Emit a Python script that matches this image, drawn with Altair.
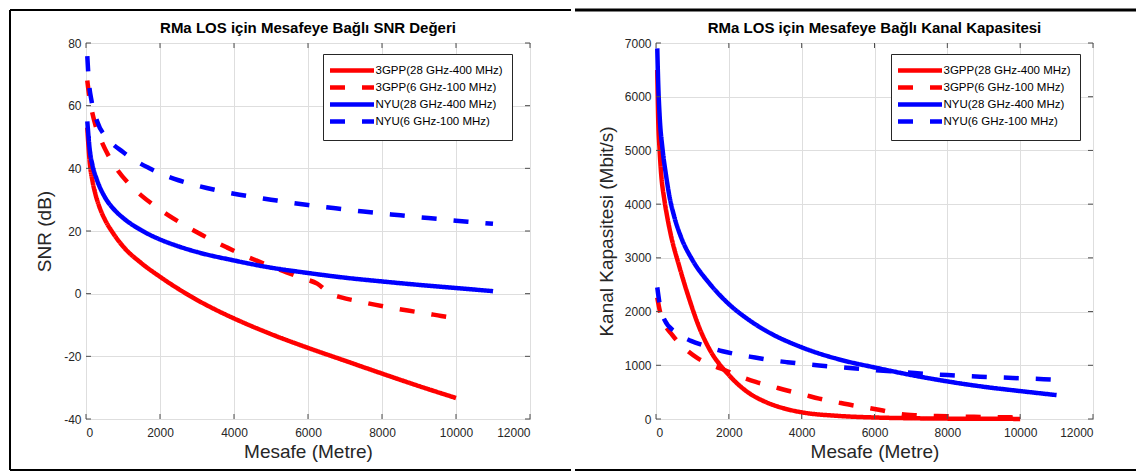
import altair as alt
import pandas as pd

SERIES = ["3GPP(28 GHz-400 MHz)", "3GPP(6 GHz-100 MHz)", "NYU(28 GHz-400 MHz)", "NYU(6 GHz-100 MHz)"]
COLORS = ["#ff0000", "#ff0000", "#0000ff", "#0000ff"]
DASHES = [[1, 0], [15, 17], [1, 0], [15, 17]]

X_TICKS = [0, 2000, 4000, 6000, 8000, 10000, 12000]
SNR_TICKS = [-40, -20, 0, 20, 40, 60, 80]
CAP_TICKS = [0, 1000, 2000, 3000, 4000, 5000, 6000, 7000]

TITLE_SNR = "RMa LOS için Mesafeye Bağlı SNR Değeri"
TITLE_CAP = "RMa LOS için Mesafeye Bağlı Kanal Kapasitesi"
X_TITLE = "Mesafe (Metre)"
Y_TITLE_SNR = "SNR (dB)"
Y_TITLE_CAP = "Kanal Kapasitesi (Mbit/s)"

# ---- SNR (dB) ----
snr_3gpp28_d = [35, 100, 175, 250, 375, 500, 750, 1000, 1500, 2000, 2500, 3000, 3500, 4000,
                5000, 6000, 7000, 8000, 9000, 10000]
snr_3gpp28_v = [53, 42, 36, 32, 27.3, 23.9, 19, 15.1, 9.7, 5.4, 1.5, -2, -5.1, -7.9,
                -12.9, -17.3, -21.4, -25.5, -29.5, -33.3]

snr_3gpp6_d = [35, 100, 175, 250, 420, 600, 830, 1200, 1500, 1900, 2230, 2630, 3000, 3400, 3800, 4200, 4600,
               5150, 5420, 5850, 6250, 6600, 6900, 7400, 7800, 8300, 8700, 9200, 9600, 10000]
snr_3gpp6_v = [68, 62, 57.5, 54, 48.6, 44.2, 39.8, 34.6, 31.3, 27.7, 25.0, 22.1, 19.6, 17.1, 14.8, 12.6, 10.6,
               8.0, 6.8, 4.9, 3.2, 0.0, -1.2, -2.5, -3.5, -4.6, -5.4, -6.3, -7.1, -7.8]

snr_nyu28_d = [35, 100, 175, 290, 500, 740, 1000, 1500, 2000, 2500, 3000, 4000, 5000, 6000, 7000,
               8000, 9000, 10000, 11000]
snr_nyu28_v = [55, 46, 41, 36.5, 31, 27.1, 24.2, 20.2, 17.3, 15.1, 13.3, 10.6, 8.3, 6.6, 5.1,
               3.9, 2.8, 1.8, 0.8]

snr_nyu6_d = [35, 75, 150, 300, 600, 1000, 1300, 1700, 2000, 2500, 3000, 3500, 4000, 4500, 5000, 5500,
              6000, 6500, 7000, 7500, 8000, 8500, 9000, 9500, 10000, 10500, 11000]
snr_nyu6_v = [75.8, 68, 61.5, 55, 49.3, 45.2, 42.7, 40.1, 38.4, 36.2, 34.5, 33.1, 31.9, 30.9, 30.0, 29.1,
              28.3, 27.6, 26.9, 26.2, 25.6, 25.0, 24.4, 23.9, 23.3, 22.8, 22.3]

# ---- Channel capacity (Mbit/s) ----
cap_3gpp28_d = [35, 60, 100, 140, 230, 320, 410, 640, 910, 1190, 1460, 2000, 2560, 3000, 3500, 4000,
                5000, 6000, 7000, 8000, 9000, 10000]
cap_3gpp28_v = [6500, 5600, 5000, 4580, 4080, 3720, 3420, 2840, 2240, 1700, 1310, 820, 480, 320, 200, 125,
                58, 28, 14, 7, 4, 2]

cap_3gpp6_d = [35, 100, 200, 450, 780, 1140, 1550, 1900, 2330, 2740, 3200, 3600, 4060, 4480, 4980, 5390,
               5850, 6250, 6700, 7100, 7600, 8000, 8500, 9000, 9500, 10000]
cap_3gpp6_v = [2260, 2030, 1820, 1560, 1320, 1135, 1000, 905, 785, 690, 605, 530, 453, 380, 310, 255,
               205, 155, 95, 70, 58, 50, 44, 38, 33, 28]

cap_nyu28_d = [35, 60, 100, 180, 275, 365, 500, 685, 1000, 1460, 2000, 2560, 3000, 4000, 5000, 6000,
               7000, 8000, 9000, 10000, 11000]
cap_nyu28_v = [6900, 6260, 5640, 5020, 4540, 4160, 3770, 3390, 2960, 2530, 2140, 1840, 1650, 1335, 1115, 960,
               820, 700, 600, 520, 445]

cap_nyu6_d = [35, 100, 230, 550, 960, 1320, 1830, 2240, 2720, 3120, 3600, 4000, 4480, 4890, 5400, 5750,
              6500, 7100, 7550, 8000, 8400, 8900, 9300, 9800, 10200, 10650, 11000]
cap_nyu6_v = [2450, 2140, 1850, 1610, 1455, 1366, 1262, 1200, 1145, 1100, 1058, 1028, 996, 972, 945, 925,
              885, 855, 835, 817, 803, 788, 777, 764, 754, 742, 730]


def long_df(pairs):
    rows = []
    for name, (d, v) in zip(SERIES, pairs):
        for a, b in zip(d, v):
            rows.append({"Seri": name, "Mesafe": a, "Deger": b})
    return pd.DataFrame(rows)


snr_df = long_df([(snr_3gpp28_d, snr_3gpp28_v), (snr_3gpp6_d, snr_3gpp6_v),
                  (snr_nyu28_d, snr_nyu28_v), (snr_nyu6_d, snr_nyu6_v)])
cap_df = long_df([(cap_3gpp28_d, cap_3gpp28_v), (cap_3gpp6_d, cap_3gpp6_v),
                  (cap_nyu28_d, cap_nyu28_v), (cap_nyu6_d, cap_nyu6_v)])

FONT = "Liberation Sans"
FRAME = "#4d4d4d"
H = 376
LW = 4.5


def make_legend(lx):
    return alt.Legend(
        title=None, orient="none", legendX=lx, legendY=11,
        symbolType="M-4.4,0L4.4,0", symbolSize=100, symbolStrokeWidth=LW,
        symbolOffset=12.5, labelOffset=16, labelFont=FONT, labelFontSize=11.5,
        labelColor="#000000", labelLimit=400, padding=9, rowPadding=-2,
        strokeColor="#262626", fillColor="#ffffff",
    )


def panel(df, W, ydomain, yticks, ytitle, title, lx, ytitle_pad, border_l, border_r, top_w, left_line):
    xs = alt.Scale(domain=[0, 12000], nice=False, zero=False)
    ys = alt.Scale(domain=ydomain, nice=False, zero=False)
    x = alt.X("Mesafe:Q", scale=xs, axis=alt.Axis(
        values=X_TICKS, title=X_TITLE, grid=True, ticks=False, domain=False,
        labelExpr="'' + datum.value", labelPadding=8, titlePadding=4))
    y = alt.Y("Deger:Q", scale=ys, axis=alt.Axis(
        values=yticks, title=ytitle, grid=True, ticks=False, domain=False,
        labelExpr="'' + datum.value", labelPadding=5, titlePadding=ytitle_pad))
    leg = make_legend(lx)
    lines = alt.Chart(df).mark_line(strokeWidth=LW, interpolate="monotone").encode(
        x=x, y=y,
        color=alt.Color("Seri:N", scale=alt.Scale(domain=SERIES, range=COLORS), legend=leg),
        strokeDash=alt.StrokeDash("Seri:N", scale=alt.Scale(domain=SERIES, range=DASHES), legend=leg),
    )
    xt = pd.DataFrame({"Mesafe": X_TICKS})
    yt = pd.DataFrame({"Deger": yticks})
    tick_b = alt.Chart(xt).mark_rule(color=FRAME, strokeWidth=1).encode(
        x=alt.X("Mesafe:Q", scale=xs), y=alt.value(H), y2=alt.value(H - 5))
    tick_t = alt.Chart(xt).mark_rule(color=FRAME, strokeWidth=1).encode(
        x=alt.X("Mesafe:Q", scale=xs), y=alt.value(0), y2=alt.value(5))
    tick_l = alt.Chart(yt).mark_rule(color=FRAME, strokeWidth=1).encode(
        y=alt.Y("Deger:Q", scale=ys), x=alt.value(0), x2=alt.value(5))
    tick_r = alt.Chart(yt).mark_rule(color=FRAME, strokeWidth=1).encode(
        y=alt.Y("Deger:Q", scale=ys), x=alt.value(W - 5), x2=alt.value(W))
    one = pd.DataFrame({"k": [0]})
    head = alt.Chart(one).mark_text(
        text=title, font=FONT, fontSize=15, fontWeight="bold", color="#000000",
        align="center", baseline="middle",
    ).encode(x=alt.value(W / 2), y=alt.value(-15))
    layers = [lines, tick_b, tick_t, tick_l, tick_r, head]
    layers.append(alt.Chart(one).mark_rule(color="#000000", strokeWidth=top_w).encode(
        x=alt.value(border_l), x2=alt.value(border_r), y=alt.value(-33)))
    layers.append(alt.Chart(one).mark_rule(color="#000000", strokeWidth=2).encode(
        x=alt.value(border_l), x2=alt.value(border_r), y=alt.value(427)))
    if left_line:
        layers.append(alt.Chart(one).mark_rule(color="#000000", strokeWidth=2).encode(
            x=alt.value(border_l), y=alt.value(-33), y2=alt.value(427)))
    return alt.layer(*layers).properties(width=W, height=H).resolve_scale(
        color="independent", strokeDash="independent")


left = panel(snr_df, 444, [-40, 80], SNR_TICKS, Y_TITLE_SNR, TITLE_SNR, 237, 9, -76, 485, 2, True)
right = panel(cap_df, 437, [0, 7000], CAP_TICKS, Y_TITLE_CAP, TITLE_CAP, 235, 8, -81, 480, 3, False)

chart = alt.hconcat(left, right, spacing=0).properties(padding=0).resolve_scale(
    color="independent", strokeDash="independent"
).resolve_legend(color="independent", strokeDash="independent").configure_view(
    stroke=FRAME, strokeWidth=1
).configure_axis(
    labelFont=FONT, labelFontSize=12, labelColor="#262626",
    titleFont=FONT, titleFontSize=19, titleColor="#262626", titleFontWeight="normal",
    gridColor="#dedede", gridWidth=1,
)

chart.save("out.html", embed_options={"renderer": "svg", "actions": False})
